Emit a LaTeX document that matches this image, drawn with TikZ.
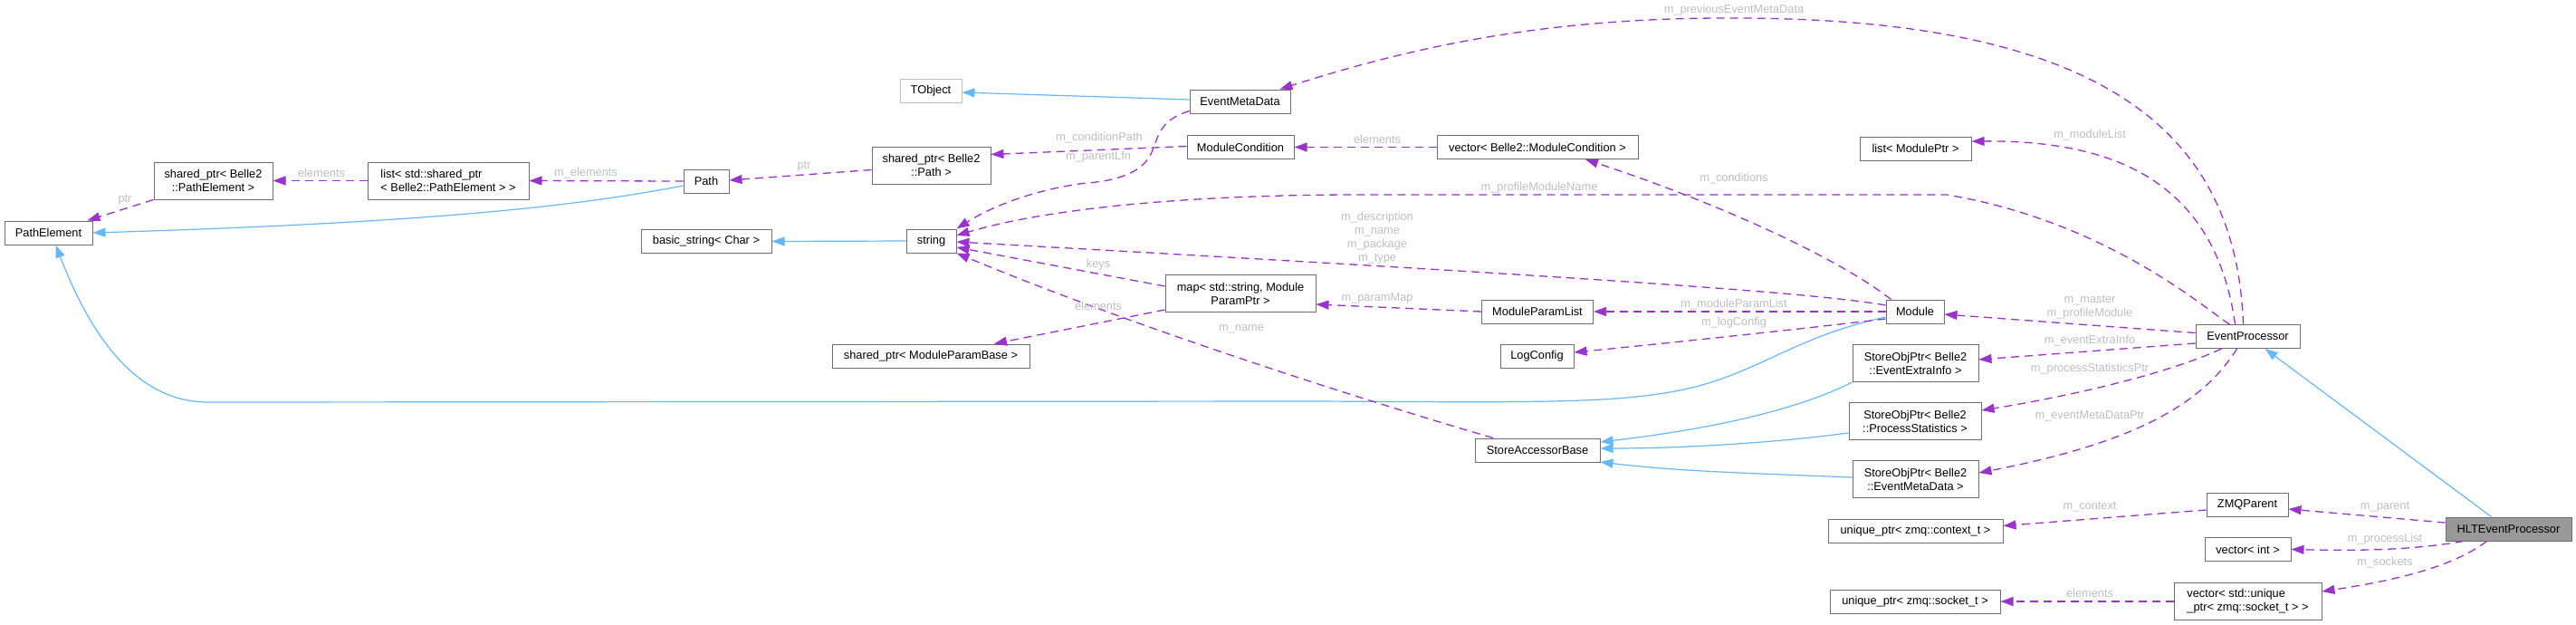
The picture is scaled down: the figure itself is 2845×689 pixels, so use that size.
\documentclass[tikz,border=0pt]{standalone}
\usepackage{fontspec}
\setmainfont{Liberation Sans}
\usetikzlibrary{arrows.meta}
\definecolor{purp}{HTML}{9A32CD}
\definecolor{inh}{HTML}{63B8FF}
\definecolor{lblc}{HTML}{BEBEBE}
\definecolor{bord}{HTML}{6E6E6E}
\definecolor{extb}{HTML}{BFBFBF}
\definecolor{hlt}{HTML}{999999}
\newcommand\nf{\fontsize{12.8}{15}\selectfont}
\tikzset{
  cls/.style={draw=bord, line width=1pt, fill=white, font=\nf, inner sep=0pt, minimum height=26pt, align=center},
  cls2/.style={cls, minimum height=41pt},
  usage/.style={draw=purp, line width=1.3pt, dash pattern=on 9pt off 6pt, -{Triangle[length=14pt,width=10pt,fill=purp]}},
  inherit/.style={draw=inh, line width=1.2pt, -{Triangle[length=14pt,width=10pt,fill=inh]}},
  lbl/.style={font=\nf, text=lblc, inner sep=0pt, align=center}
}
\begin{document}
\begin{tikzpicture}[x=1pt,y=-1pt]
\useasboundingbox (0,0) rectangle (2845,689);
% ---------------- nodes ----------------
\node[cls, minimum width=97pt] (PE) at (53.5,257) {PathElement};
\node[cls2, minimum width=131pt] (spPE) at (235.5,199.5) {shared\_ptr< Belle2\\::PathElement >};
\node[cls2, minimum width=178pt, align=left] (listSP) at (495,199.5) {list< std::shared\_ptr\\< Belle2::PathElement > >};
\node[cls, minimum width=50pt] (Path) at (780,200) {Path};
\node[cls2, minimum width=131pt] (spPath) at (1028.5,182.5) {shared\_ptr< Belle2\\::Path >};
\node[cls, minimum width=68pt, draw=extb] (TObject) at (1028,100) {TObject};
\node[cls, minimum width=111pt] (EMD) at (1369.5,112) {EventMetaData};
\node[cls, minimum width=118pt] (MC) at (1370,162.5) {ModuleCondition};
\node[cls, minimum width=222pt] (vecMC) at (1698,162.5) {vector< Belle2::ModuleCondition >};
\node[cls, minimum width=123pt] (listMP) at (2115.5,164) {list< ModulePtr >};
\node[cls, minimum width=144pt] (bstr) at (780,266.5) {basic\_string< Char >};
\node[cls, minimum width=55pt] (str) at (1028.5,266) {string};
\node[cls2, minimum width=166pt] (map) at (1370,324) {map< std::string, Module\\ParamPtr >};
\node[cls, minimum width=218pt] (spMPB) at (1028,393) {shared\_ptr< ModuleParamBase >};
\node[cls, minimum width=123pt] (MPL) at (1698,344) {ModuleParamList};
\node[cls, minimum width=64pt] (Module) at (2115,344) {Module};
\node[cls, minimum width=81pt] (LogConfig) at (1697.5,393) {LogConfig};
\node[cls2, minimum width=139pt] (SOPEEI) at (2115.5,401) {StoreObjPtr< Belle2\\::EventExtraInfo >};
\node[cls2, minimum width=146pt] (SOPPS) at (2115,465) {StoreObjPtr< Belle2\\::ProcessStatistics >};
\node[cls, minimum width=138pt] (SAB) at (1698,497) {StoreAccessorBase};
\node[cls2, minimum width=139pt] (SOPEMD) at (2115.5,529) {StoreObjPtr< Belle2\\::EventMetaData >};
\node[cls, minimum width=115pt] (EP) at (2482.5,371.5) {EventProcessor};
\node[cls, minimum width=139pt, fill=hlt] (HLT) at (2770.5,584) {HLTEventProcessor};
\node[cls, minimum width=90pt] (ZMQ) at (2482,557) {ZMQParent};
\node[cls, minimum width=95pt] (vint) at (2482.5,606.5) {vector< int >};
\node[cls2, minimum width=163pt, align=left] (vsock) at (2482.5,664) {vector< std::unique\\\_ptr< zmq::socket\_t > >};
\node[cls, minimum width=193pt] (uctx) at (2115.5,586.5) {unique\_ptr< zmq::context\_t >};
\node[cls, minimum width=188pt] (usock) at (2115,664) {unique\_ptr< zmq::socket\_t >};
% ---------------- inheritance ----------------
\draw[inherit] ([yshift=2pt]EMD.west) -- ([yshift=-2pt]TObject.east);
\draw[inherit] ([yshift=-5pt]Path.west) .. controls (650,225) and (500,245) .. (PE.east);
\draw[inherit] ([yshift=-6pt]Module.west) .. controls (1990,370) and (1950,405) .. (1880,425)
   .. controls (1800,447) and (1700,444) .. (1450,443) -- (230,444)
   .. controls (150,444) and (100,370) .. ([xshift=8pt]PE.south);
\draw[inherit] (str.west) -- (bstr.east);
\draw[inherit] (SOPEEI.south west) .. controls (2000,445) and (1920,470) .. ([yshift=9pt]SAB.east);
\draw[inherit] ([yshift=-13pt]SOPPS.west) .. controls (1950,490) and (1850,495) .. ([yshift=2pt]SAB.east);
\draw[inherit] ([yshift=2pt]SOPEMD.west) .. controls (1920,522) and (1850,520) .. ([yshift=-13pt]SAB.east);
\draw[inherit] ([xshift=-19pt]HLT.north) -- ([xshift=19pt]EP.south);
% ---------------- usage ----------------
\draw[usage] (spPE.south west) -- ([xshift=-6pt]PE.north east);
\draw[usage] (listSP.west) -- (spPE.east);
\draw[usage] (Path.west) -- (listSP.east);
\draw[usage] ([yshift=-5pt]spPath.west) -- ([yshift=1pt]Path.east);
\draw[usage] ([yshift=1pt]MC.west) -- ([yshift=12pt]spPath.east);
\draw[usage] ([yshift=3pt]EMD.south west) .. controls (1280,133) and (1280,150) .. (1272,168)
   .. controls (1262,192) and (1230,200) .. (1200,202)
   .. controls (1150,208) and (1100,225) .. (str.north east);
\draw[usage] (vecMC.west) -- (MC.east);
\draw[usage] ([xshift=6pt]Module.north west) .. controls (2030,285) and (1900,225) .. ([xshift=53pt]vecMC.south);
\draw[usage] ([yshift=7pt]Module.west) .. controls (2000,322) and (1700,303) .. ([yshift=-1pt]str.east);
\draw[usage] ([xshift=-20pt]EP.north) .. controls (2440,345) and (2330,245) .. (2150,215) -- (1500,215)
   .. controls (1300,215) and (1150,232) .. ([yshift=6pt]str.east);
\draw[usage] ([yshift=8pt]map.west) -- ([yshift=-7pt]str.east);
\draw[usage] ([yshift=3pt]map.south west) -- ([xshift=70pt]spMPB.north);
\draw[usage] ([xshift=-49pt]SAB.north) .. controls (1500,440) and (1250,360) .. (str.south east);
\draw[usage] (MPL.west) -- ([yshift=-12pt]map.east);
\draw[usage] (Module.west) -- (MPL.east);
\draw[usage] ([yshift=-8pt]Module.west) .. controls (2000,362) and (1850,378) .. ([yshift=4pt]LogConfig.east);
\draw[usage] ([xshift=-5pt]EP.north) .. controls (2470,150) and (2330,20) .. (1915,20)
   .. controls (1700,19) and (1550,55) .. ([xshift=-12pt]EMD.north east);
\draw[usage] ([xshift=-14pt]EP.north) .. controls (2445,190) and (2320,155) .. ([yshift=8pt]listMP.east);
\draw[usage] ([yshift=4pt]EP.west) -- ([yshift=-3pt]Module.east);
\draw[usage] ([yshift=-7.5pt]EP.west) -- ([yshift=4pt]SOPEEI.east);
\draw[usage] ([xshift=-29pt]EP.south) .. controls (2400,410) and (2300,435) .. ([yshift=12pt]SOPPS.east);
\draw[usage] ([xshift=-12pt]EP.south) .. controls (2430,450) and (2350,490) .. ([yshift=7pt]SOPEMD.east);
\draw[usage] ([yshift=7pt]HLT.west) -- ([yshift=-5pt]ZMQ.east);
\draw[usage] ([yshift=-6pt]ZMQ.west) -- ([yshift=6pt]uctx.east);
\draw[usage] ([xshift=-50pt]HLT.south) .. controls (2660,608) and (2600,608) .. (vint.east);
\draw[usage] ([xshift=-24pt]HLT.south) .. controls (2710,625) and (2650,640) .. ([yshift=11pt]vsock.east);
\draw[usage] (vsock.west) -- (usock.east);
% ---------------- labels ----------------
\node[lbl] (l1) at (138,221) {ptr};
\node[lbl] (l2) at (355,191) {elements};
\node[lbl] (l3) at (647,191) {m\_elements};
\node[lbl] (l4) at (888,184) {ptr};
\node[lbl] (l5) at (1214,152) {m\_conditionPath};
\node[lbl] (l6) at (1213,173) {m\_parentLfn};
\node[lbl] (l7) at (1521,154) {elements};
\node[lbl] (l8) at (1915,197) {m\_conditions};
\node[lbl] (l9) at (1521,263) {m\_description\\m\_name\\m\_package\\m\_type};
\node[lbl] (l10) at (1700,207) {m\_profileModuleName};
\node[lbl] (l11) at (1213,292) {keys};
\node[lbl] (l12) at (1213,338) {elements};
\node[lbl] (l13) at (1371,363) {m\_name};
\node[lbl] (l14) at (1521,329) {m\_paramMap};
\node[lbl] (l15) at (1915,336) {m\_moduleParamList};
\node[lbl] (l16) at (1915,356) {m\_logConfig};
\node[lbl] (l17) at (1915,11) {m\_previousEventMetaData};
\node[lbl] (l18) at (2308,149) {m\_moduleList};
\node[lbl] (l19) at (2308,339) {m\_master\\m\_profileModule};
\node[lbl] (l20) at (2308,376) {m\_eventExtraInfo};
\node[lbl] (l21) at (2308,407) {m\_processStatisticsPtr};
\node[lbl] (l22) at (2308,459) {m\_eventMetaDataPtr};
\node[lbl] (l23) at (2634,560) {m\_parent};
\node[lbl] (l24) at (2308,560) {m\_context};
\node[lbl] (l25) at (2634,595) {m\_processList};
\node[lbl] (l26) at (2634,621) {m\_sockets};
\node[lbl] (l27) at (2308,655) {elements};
\end{tikzpicture}
\end{document}
